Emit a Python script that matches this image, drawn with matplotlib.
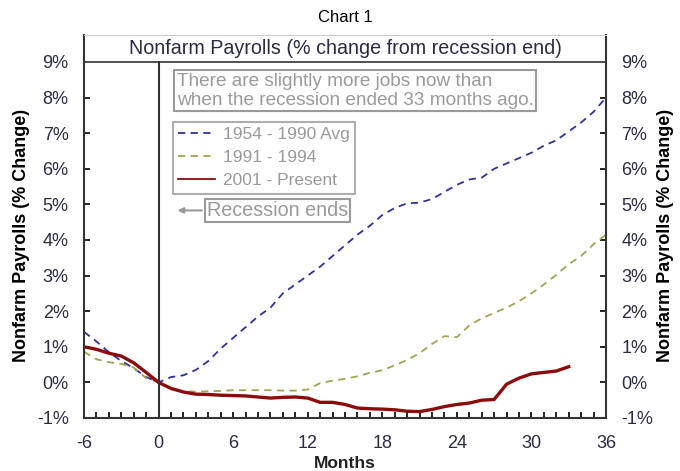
import numpy as np
import matplotlib
matplotlib.use("Agg")
import matplotlib.pyplot as plt
from matplotlib.ticker import MultipleLocator, FuncFormatter

plt.rcParams['font.family'] = ['Liberation Sans', 'DejaVu Sans']
plt.rcParams['axes.unicode_minus'] = False

# --- data ---
months = list(range(-6, 37))
avg_1954_1990 = [1.42, 1.15, 0.85, 0.60, 0.40, 0.15, 0.00, 0.15, 0.20, 0.35,
                 0.60, 0.95, 1.25, 1.55, 1.85, 2.10, 2.50, 2.75, 3.00, 3.25,
                 3.55, 3.85, 4.15, 4.40, 4.70, 4.90, 5.03, 5.05, 5.15, 5.35,
                 5.55, 5.70, 5.75, 6.00, 6.15, 6.30, 6.45, 6.65, 6.80, 7.05,
                 7.30, 7.60, 8.00]
cycle_1991_1994 = [0.86, 0.65, 0.57, 0.52, 0.42, 0.12, 0.00, -0.15, -0.25, -0.26,
                   -0.25, -0.24, -0.22, -0.22, -0.22, -0.22, -0.23, -0.23, -0.20, -0.02,
                   0.05, 0.10, 0.17, 0.27, 0.34, 0.48, 0.63, 0.82, 1.08, 1.30,
                   1.27, 1.60, 1.80, 1.95, 2.10, 2.28, 2.50, 2.75, 3.02, 3.32,
                   3.55, 3.88, 4.15]
months_2001 = list(range(-6, 34))
cycle_2001 = [1.00, 0.93, 0.82, 0.74, 0.55, 0.28, 0.00, -0.17, -0.27, -0.33,
              -0.34, -0.36, -0.37, -0.38, -0.41, -0.44, -0.42, -0.41, -0.44, -0.56,
              -0.56, -0.62, -0.72, -0.74, -0.75, -0.77, -0.81, -0.82, -0.76, -0.68,
              -0.62, -0.58, -0.50, -0.48, -0.05, 0.12, 0.24, 0.28, 0.32, 0.44]

GRAY = '#9a9a9a'
TXT = '#2b2b45'

fig = plt.figure(figsize=(6.8, 4.71), dpi=100)
ax = fig.add_axes([84 / 680, 1 - 418 / 471, (606 - 84) / 680, (418 - 35) / 471])

ax.plot(months, avg_1954_1990, color='#30309a', lw=1.3, ls=(0, (4, 3)), label='1954 - 1990 Avg')
ax.plot(months, cycle_1991_1994, color='#a4a450', lw=1.3, ls=(0, (4, 3)), label='1991 - 1994')
ax.plot(months_2001, cycle_2001, color='#8b0c0c', lw=2.4, label='2001 - Present')

top = 9 + 27 / 35.6
ax.set_xlim(-6, 36)
ax.set_ylim(-1, top)
ax.axhline(9, color='#333333', lw=1.2)
ax.plot([0, 0], [-1, 9], color='#333333', lw=1.5)

ax.xaxis.set_major_locator(MultipleLocator(6))
ax.xaxis.set_minor_locator(MultipleLocator(1))
ax.set_yticks(range(-1, 10))
ax.yaxis.set_major_formatter(FuncFormatter(lambda v, p: f'{v:.0f}%'))
ax.tick_params(axis='x', which='both', direction='in', length=4, width=1.2, labelsize=13,
               labelcolor=TXT, pad=12)
ax.tick_params(axis='y', direction='in', length=4, width=1.2, labelsize=13, labelcolor=TXT,
               left=True, right=True, labelleft=True, labelright=True, pad=11)
for t in ax.get_yticklines()[-2:]:
    t.set_visible(False)

for s in ['left', 'right', 'bottom']:
    ax.spines[s].set_linewidth(1.5)
    ax.spines[s].set_color('#333333')
ax.spines['top'].set_color('#cccccc')
ax.spines['top'].set_linewidth(0.8)

ax.text(15, (9 + top) / 2, 'Nonfarm Payrolls (% change from recession end)', ha='center',
        va='center', fontsize=14.2, color=TXT)

fig.text(345 / 680, 1 - 17 / 471, 'Chart 1', ha='center', va='center', fontsize=12)
fig.text(345 / 680, 1 - 463 / 471, 'Months', ha='center', va='center', fontsize=12.5,
         fontweight='bold', color='#222222')
fig.text(22 / 680, 1 - 235 / 471, 'Nonfarm Payrolls (% Change)', rotation=90, ha='center',
         va='center', fontsize=13, fontweight='bold')
fig.text(665 / 680, 1 - 235 / 471, 'Nonfarm Payrolls (% Change)', rotation=90, ha='center',
         va='center', fontsize=13, fontweight='bold')

ax.text(1.45, 8.19, 'There are slightly more jobs now than\nwhen the recession ended 33 months ago.',
        fontsize=13.7, color=GRAY, va='center', ha='left', linespacing=1.2,
        bbox=dict(boxstyle='square,pad=0.12', fc='white', ec=GRAY, lw=1.5))

leg = ax.legend(loc='upper left', bbox_to_anchor=((173 - 84) / 522, 1 - (122 - 35) / 383),
                frameon=True, fancybox=False, fontsize=12.5, handlelength=2.1,
                borderpad=0.3, labelspacing=0.45, handletextpad=0.5, borderaxespad=0)
leg.get_frame().set_edgecolor(GRAY)
leg.get_frame().set_linewidth(1.5)
for t in leg.get_texts():
    t.set_color(GRAY)
leg.get_lines()[2].set_linewidth(1.3)

ax.annotate('Recession ends', xy=(1.3, 4.83), xytext=(3.9, 4.83), fontsize=14.2, color=GRAY,
            va='center', ha='left',
            bbox=dict(boxstyle='square,pad=0.08', fc='white', ec=GRAY, lw=1.5),
            arrowprops=dict(arrowstyle='-|>', color=GRAY, lw=1.5, mutation_scale=8))

fig.savefig('out.png', dpi=100)
